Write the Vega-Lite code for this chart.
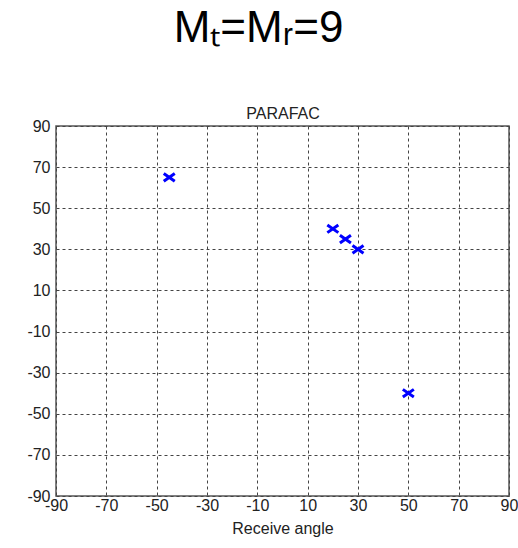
{
  "$schema": "https://vega.github.io/schema/vega-lite/v6.json",
  "width": 453,
  "height": 370,
  "autosize": {"type": "none"},
  "padding": {"left": 56, "top": 126, "right": 9, "bottom": 52},
  "background": "white",
  "title": {
    "text": "Mₜ=Mᵣ=9",
    "font": "Liberation Sans",
    "fontSize": 44,
    "fontWeight": "normal",
    "color": "black",
    "anchor": "middle",
    "dx": -24,
    "offset": 54
  },
  "config": {
    "view": {"stroke": "#555555", "strokeWidth": 1.5},
    "axis": {
      "labelFont": "Liberation Sans",
      "labelFontSize": 16,
      "labelColor": "#222222",
      "titleFont": "Liberation Sans",
      "titleFontSize": 16,
      "titleFontWeight": "normal",
      "titleColor": "#222222",
      "domain": false,
      "ticks": false,
      "gridColor": "#444444",
      "gridDash": [3, 3],
      "gridWidth": 1,
      "gridOpacity": 1,
      "labelFlush": false,
      "labelOverlap": false
    }
  },
  "data": {
    "values": [
      {"receive": -45, "transmit": 65},
      {"receive": 20, "transmit": 40},
      {"receive": 25, "transmit": 35},
      {"receive": 30, "transmit": 30},
      {"receive": 50, "transmit": -40}
    ]
  },
  "resolve": {"axis": {"x": "independent"}},
  "layer": [
    {
      "mark": {"type": "point", "opacity": 0},
      "encoding": {
        "x": {
          "field": "receive",
          "type": "quantitative",
          "scale": {"domain": [-90, 90], "nice": false, "zero": false},
          "axis": {
            "orient": "top",
            "title": "PARAFAC",
            "labels": false,
            "grid": false,
            "titlePadding": 5
          }
        }
      }
    },
    {
      "mark": {
        "type": "point",
        "shape": "M-1,-0.7L1,0.7M-1,0.7L1,-0.7",
        "filled": false,
        "stroke": "#0000FF",
        "strokeWidth": 3,
        "size": 121,
        "opacity": 1
      },
      "encoding": {
        "x": {
          "field": "receive",
          "type": "quantitative",
          "scale": {"domain": [-90, 90], "nice": false, "zero": false},
          "axis": {
            "orient": "bottom",
            "title": "Receive angle",
            "grid": true,
            "values": [-90, -70, -50, -30, -10, 10, 30, 50, 70, 90],
            "labelExpr": "'' + datum.value",
            "labelPadding": 1,
            "titlePadding": 7
          }
        },
        "y": {
          "field": "transmit",
          "type": "quantitative",
          "scale": {"domain": [-90, 90], "nice": false, "zero": false},
          "axis": {
            "title": null,
            "grid": true,
            "values": [-90, -70, -50, -30, -10, 10, 30, 50, 70, 90],
            "labelExpr": "'' + datum.value",
            "labelPadding": 6
          }
        }
      }
    }
  ]
}
